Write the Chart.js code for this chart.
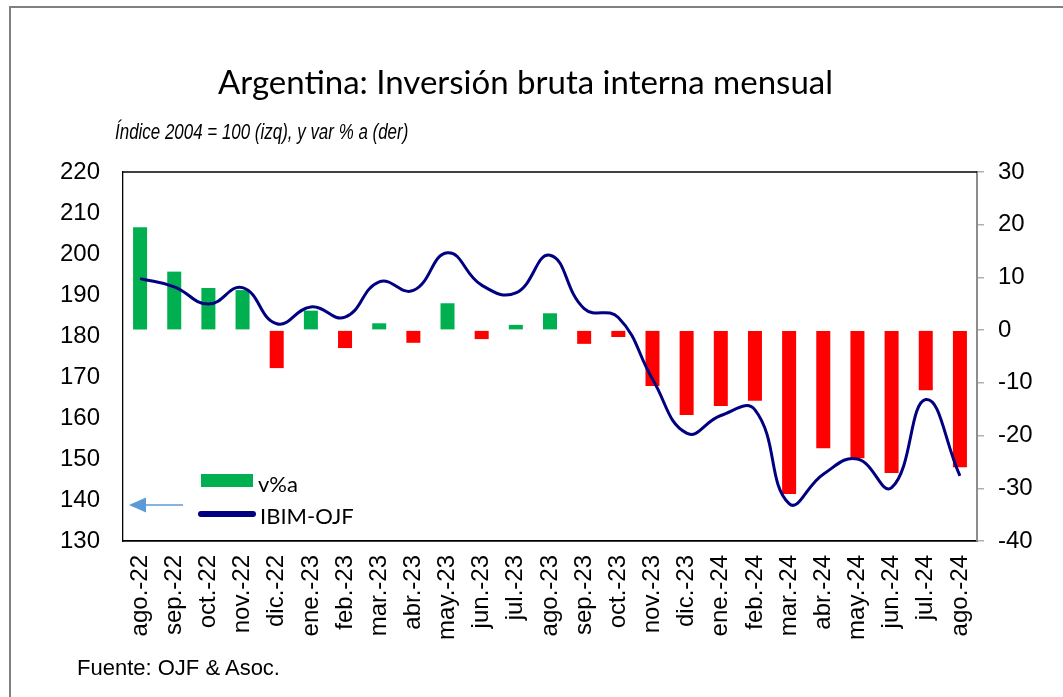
<!DOCTYPE html>
<html>
<head>
<meta charset="utf-8">
<title>Argentina: Inversión bruta interna mensual</title>
<script src="https://cdn.jsdelivr.net/npm/chart.js@4.4.0/dist/chart.umd.min.js"></script>
<style>
    html, body { margin: 0; padding: 0; background: #fff; }
    #wrap { position: relative; width: 1063px; height: 697px; overflow: hidden; }
    #frame { position: absolute; left: 9px; top: 6px; width: 1100px; height: 760px;
             border-left: 2px solid #808080; border-top: 2px solid #808080; }
    #chart { position: absolute; left: 0; top: 0; }
    .txt { position: absolute; line-height: 1; white-space: nowrap; color: #000; }
    #title { left: 218px; top: 61px; font: 33px Lato, "Noto Sans", sans-serif; }
    #subtitle { left: 115px; top: 119px; font: italic 22px "Liberation Sans", Arial, sans-serif;
                transform: scaleX(0.77); transform-origin: 0 0; }
    #source { left: 77px; top: 655px; font: 22px "Liberation Sans", Arial, sans-serif; }
    .leg { font: 22px Lato, sans-serif; }
    #swBar { position: absolute; left: 201px; top: 474px; width: 52px; height: 13px; background: #00B050; }
    #swLine { position: absolute; left: 198px; top: 511px; width: 58px; height: 6px; border-radius: 3px; background: #000080; }
    #arrow { position: absolute; left: 120px; top: 490px; }
</style>
</head>
<body>
<div id="wrap">
    <div id="frame"></div>
    <canvas id="chart" width="1063" height="697"></canvas>
    <div class="txt" id="title">Argentina: Inversión bruta interna mensual</div>
    <div class="txt" id="subtitle">Índice 2004 = 100 (izq), y var % a (der)</div>
    <div id="swBar"></div>
    <div class="txt leg" style="left:258px; top:470px;">v%a</div>
    <div id="swLine"></div>
    <div class="txt leg" style="left:260px; top:502px;">IBIM-OJF</div>
    <svg id="arrow" width="80" height="30">
        <line x1="24" y1="15" x2="63" y2="15" stroke="#5B9BD5" stroke-width="1.5"/>
        <polygon points="9,15 26,7.5 26,22.5" fill="#5B9BD5"/>
    </svg>
    <div class="txt" id="source">Fuente: OJF &amp; Asoc.</div>
</div>
<script>
    "use strict";

    // Data
    var meses = ['ago.-22', 'sep.-22', 'oct.-22', 'nov.-22', 'dic.-22', 'ene.-23', 'feb.-23', 'mar.-23',
        'abr.-23', 'may.-23', 'jun.-23', 'jul.-23', 'ago.-23', 'sep.-23', 'oct.-23', 'nov.-23',
        'dic.-23', 'ene.-24', 'feb.-24', 'mar.-24', 'abr.-24', 'may.-24', 'jun.-24', 'jul.-24', 'ago.-24'];
    var ibim = [194.0, 192.0, 187.8, 191.8, 183.0, 187.1, 184.6, 193.2, 191.1, 200.3, 192.4, 190.5, 199.7,
        186.7, 184.5, 169.5, 156.3, 160.6, 162.0, 139.1, 146.3, 150.0, 143.0, 164.5, 145.9];
    var varA = [19.5, 11.1, 8.0, 7.6, -7.2, 3.7, -3.4, 1.3, -2.4, 5.1, -1.7, 1.0, 3.2,
        -2.6, -1.3, -10.6, -16.1, -14.4, -13.4, -31.1, -22.4, -24.3, -27.1, -11.4, -26.0];

    var VERDE = '#00B050';
    var ROJO = '#FF0000';
    var AZUL = '#000080';

    Chart.defaults.font.family = "'Liberation Sans', Arial, sans-serif";
    Chart.defaults.color = '#000';

    // top edge of the plot frame
    var frameTop = {
        id: 'frameTop',
        afterDraw: function (chart) {
            var a = chart.chartArea, ctx = chart.ctx;
            ctx.save();
            ctx.strokeStyle = '#000';
            ctx.lineWidth = 1.3;
            ctx.beginPath();
            ctx.moveTo(a.left, a.top);
            ctx.lineTo(a.right, a.top);
            ctx.stroke();
            ctx.restore();
        }
    };

    var ctx = document.getElementById('chart').getContext('2d');
    var chart = new Chart(ctx, {
        data: {
            labels: meses,
            datasets: [{
                type: 'line',
                label: 'IBIM-OJF',
                data: ibim,
                yAxisID: 'y',
                borderColor: AZUL,
                borderWidth: 3,
                pointRadius: 0,
                tension: 0.45,
                fill: false,
                order: 0
            }, {
                type: 'bar',
                label: 'v%a',
                data: varA,
                yAxisID: 'y2',
                backgroundColor: function (c) { return c.raw >= 0 ? VERDE : ROJO; },
                categoryPercentage: 1,
                barPercentage: 0.41,
                order: 1
            }]
        },
        options: {
            responsive: false,
            animation: false,
            layout: { padding: { top: 172, left: 0, right: 0, bottom: 0 } },
            plugins: {
                legend: { display: false },
                title: { display: false },
                tooltip: { enabled: false }
            },
            scales: {
                x: {
                    offset: true,
                    grid: { display: false, drawTicks: false },
                    border: { color: '#000', width: 1.7 },
                    ticks: { autoSkip: false, maxRotation: 90, minRotation: 90, padding: 14, font: { size: 24 } },
                    afterFit: function (s) { s.height = 156; }
                },
                y: {
                    position: 'left',
                    min: 130,
                    max: 220,
                    grid: { display: false, drawTicks: false },
                    border: { color: '#000', width: 1.3 },
                    ticks: { stepSize: 10, padding: 23, font: { size: 24 } },
                    afterFit: function (s) { s.width = 123; }
                },
                y2: {
                    position: 'right',
                    min: -40,
                    max: 30,
                    grid: { drawOnChartArea: false, drawTicks: true, tickLength: 7, color: '#b0b0b0', lineWidth: 1.5 },
                    border: { color: '#8c8c8c', width: 2 },
                    ticks: { stepSize: 10, padding: 14, font: { size: 24 } },
                    afterFit: function (s) { s.width = 86; }
                }
            }
        },
        plugins: [frameTop]
    });
</script>
</body>
</html>
